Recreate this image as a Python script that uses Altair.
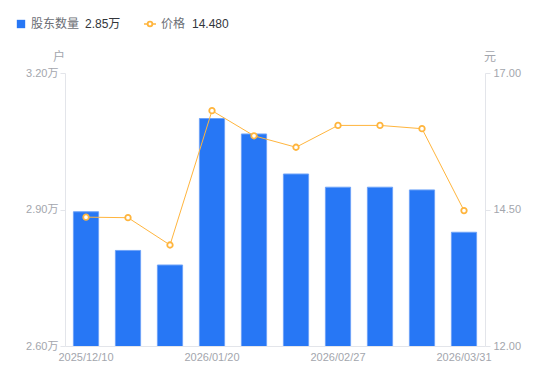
import altair as alt
import pandas as pd

dates = ["2025/12/10", "2025/12/20", "2025/12/31", "2026/01/20", "2026/01/30",
         "2026/02/10", "2026/02/27", "2026/03/10", "2026/03/20", "2026/03/31"]
holders = [2.895, 2.810, 2.778, 3.100, 3.066, 2.978, 2.949, 2.949, 2.943, 2.850]
prices = [14.36, 14.35, 13.85, 16.31, 15.85, 15.64, 16.04, 16.04, 15.98, 14.48]
shown_dates = ["2025/12/10", "2026/01/20", "2026/02/27", "2026/03/31"]

df = pd.DataFrame({"date": dates, "holders": holders, "price": prices})

FONT = "Liberation Sans, Noto Sans CJK SC"
AX = "#a3a6ad"
LINE = "#e3e5ea"
BLUE = "#2777f5"
ORANGE = "#ffb53d"

x = alt.X("date:N", sort=dates,
          scale=alt.Scale(paddingInner=0.4, paddingOuter=0.2),
          axis=alt.Axis(title=None, values=shown_dates, labelAngle=0, ticks=False,
                        domainColor=LINE, labelColor=AX, labelFontSize=11,
                        labelPadding=5, labelFont=FONT, grid=False))

bars = alt.Chart(df).mark_bar(color=BLUE, stroke="#6ea3f8", strokeWidth=1, clip=True).encode(
    x=x,
    y=alt.Y("holders:Q", scale=alt.Scale(domain=[2.6, 3.2], nice=False, zero=False),
            axis=alt.Axis(title=None, values=[2.6, 2.9, 3.2],
                          labelExpr="format(datum.value, '.2f') + '万'",
                          grid=False, domainColor=LINE, tickColor=LINE, tickSize=5,
                          labelColor=AX, labelFontSize=11, labelFont=FONT, labelPadding=2))
)

yp = alt.Y("price:Q", scale=alt.Scale(domain=[12, 17], nice=False, zero=False),
           axis=alt.Axis(title=None, orient="right", values=[12, 14.5, 17], format=".2f",
                         grid=False, domainColor=LINE, tickColor=LINE, tickSize=5,
                         labelColor=AX, labelFontSize=11, labelFont=FONT, labelPadding=3))

line = alt.Chart(df).mark_line(color=ORANGE, strokeWidth=1).encode(x=x, y=yp)
pts = alt.Chart(df).mark_point(shape="circle", filled=True, fill="white", stroke=ORANGE,
                               strokeWidth=1.8, size=30, opacity=1).encode(x=x, y=yp)

price_layer = alt.layer(line, pts)

# legend / axis titles (chrome)
leg_df = pd.DataFrame({"k": [0]})
base = alt.Chart(leg_df)
sq = base.mark_square(color=BLUE, size=70, opacity=1).encode(x=alt.value(-44), y=alt.value(-49))
t1 = base.mark_text(text="股东数量", align="left", baseline="middle", fontSize=12,
                    color="#6b6e75", font=FONT).encode(x=alt.value(-34), y=alt.value(-49))
t2 = base.mark_text(text=f"{holders[-1]:.2f}万", align="left", baseline="middle", fontSize=12,
                    color="#33363c", font=FONT).encode(x=alt.value(20), y=alt.value(-49))
ol = base.mark_rule(color=ORANGE, strokeWidth=1.5).encode(
    x=alt.value(79), x2=alt.value(91), y=alt.value(-49))
oc = base.mark_point(shape="circle", filled=True, fill="white", stroke=ORANGE, strokeWidth=1.8,
                     size=22, opacity=1).encode(x=alt.value(85), y=alt.value(-49))
t3 = base.mark_text(text="价格", align="left", baseline="middle", fontSize=12,
                    color="#6b6e75", font=FONT).encode(x=alt.value(96), y=alt.value(-49))
t4 = base.mark_text(text=f"{prices[-1]:.3f}", align="left", baseline="middle", fontSize=12,
                    color="#33363c", font=FONT).encode(x=alt.value(127), y=alt.value(-49))
ht = base.mark_text(text="户", align="center", baseline="middle", fontSize=12,
                    color=AX, font=FONT).encode(x=alt.value(-6), y=alt.value(-16))
yt = base.mark_text(text="元", align="center", baseline="middle", fontSize=12,
                    color=AX, font=FONT).encode(x=alt.value(425), y=alt.value(-16))

chrome = alt.layer(sq, t1, t2, ol, oc, t3, t4, ht, yt)

chart = alt.layer(bars, price_layer, chrome).resolve_scale(y="independent").properties(
    width=420, height=273,
    autosize=alt.AutoSizeParams(type="none"),
    padding={"left": 57, "top": 65, "right": 57, "bottom": 27},
).configure_view(stroke=None)

chart.save("out.html", embed_options={"renderer": "svg", "actions": False})
